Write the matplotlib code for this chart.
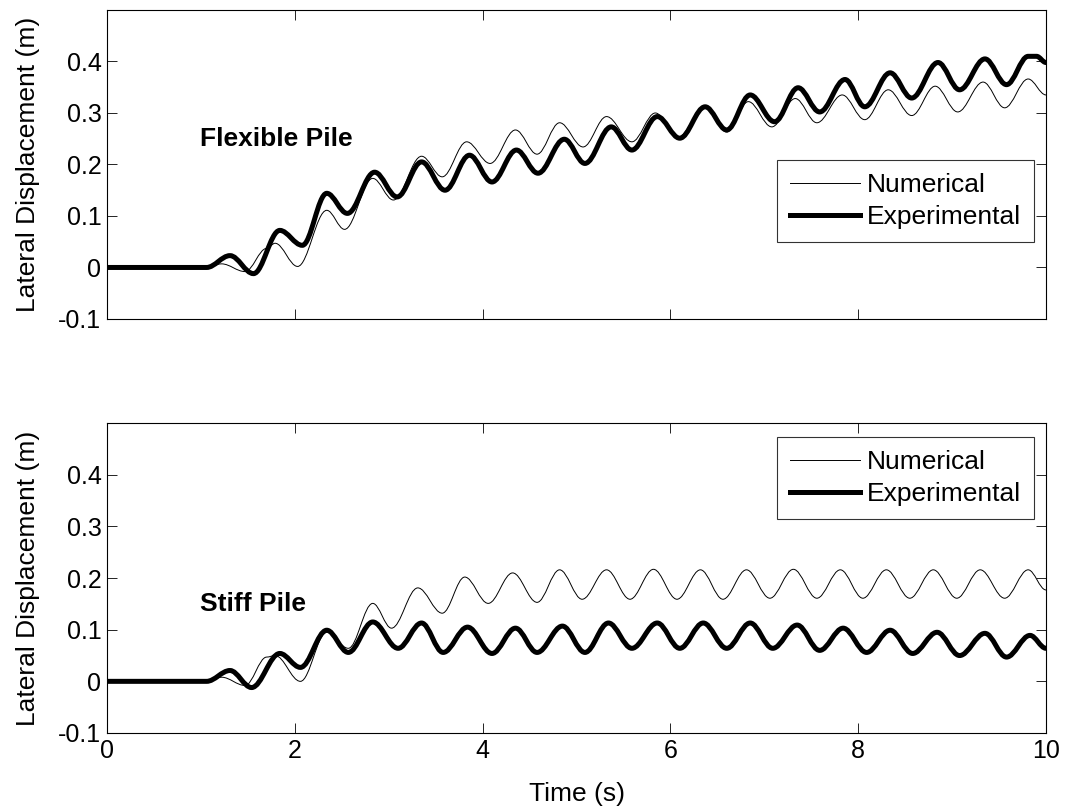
"""
Lateral displacement of flexible and stiff piles: numerical vs experimental.
Saves the figure to out.png.
"""

import matplotlib
matplotlib.use("Agg")
import matplotlib.pyplot as plt
from matplotlib.lines import Line2D
from matplotlib.patches import PathPatch
from matplotlib.path import Path


# flexible pile, experimental (peaks / troughs)
flex_exp_t = [0, 1.06, 1.31, 1.56, 1.84, 2.08, 2.34, 2.56, 2.85, 3.09, 3.35,
              3.60, 3.86, 4.10, 4.36, 4.59, 4.87, 5.09, 5.37, 5.59, 5.86,
              6.10, 6.37, 6.60, 6.85, 7.11, 7.36, 7.59, 7.86, 8.07, 8.34,
              8.57, 8.85, 9.08, 9.35, 9.58, 9.81, 9.90, 10.0]
flex_exp_y = [0, 0, 0.023, -0.012, 0.072, 0.043, 0.144, 0.105, 0.185, 0.137,
              0.205, 0.150, 0.218, 0.166, 0.228, 0.183, 0.249, 0.202, 0.273,
              0.228, 0.293, 0.251, 0.312, 0.267, 0.335, 0.283, 0.349, 0.302,
              0.365, 0.312, 0.378, 0.329, 0.398, 0.345, 0.405, 0.355, 0.410,
              0.410, 0.398]

# flexible pile, numerical
flex_num_t = [0, 1.06, 1.22, 1.47, 1.70, 1.79, 2.03, 2.34, 2.53, 2.83, 3.05,
              3.35, 3.57, 3.83, 4.08, 4.35, 4.58, 4.82, 5.07, 5.32, 5.59,
              5.84, 6.08, 6.37, 6.60, 6.83, 7.08, 7.33, 7.56, 7.83, 8.07,
              8.32, 8.57, 8.82, 9.06, 9.33, 9.56, 9.81, 10.0]
flex_num_y = [0, 0, 0.007, -0.008, 0.037, 0.047, 0.002, 0.111, 0.074, 0.173,
              0.131, 0.216, 0.176, 0.244, 0.202, 0.267, 0.220, 0.281, 0.234,
              0.293, 0.244, 0.300, 0.253, 0.312, 0.263, 0.322, 0.273, 0.328,
              0.281, 0.335, 0.287, 0.345, 0.295, 0.352, 0.302, 0.360, 0.310,
              0.366, 0.335]

# stiff pile, experimental
stiff_exp_t = [0, 1.06, 1.31, 1.54, 1.84, 2.06, 2.34, 2.57, 2.83, 3.10, 3.35,
               3.58, 3.84, 4.10, 4.35, 4.58, 4.85, 5.09, 5.34, 5.59, 5.86,
               6.10, 6.35, 6.60, 6.85, 7.09, 7.35, 7.59, 7.84, 8.09, 8.34,
               8.58, 8.84, 9.08, 9.35, 9.58, 9.83, 10.0]
stiff_exp_y = [0, 0, 0.021, -0.012, 0.054, 0.027, 0.099, 0.056, 0.115, 0.064,
               0.113, 0.056, 0.105, 0.054, 0.103, 0.056, 0.107, 0.056, 0.113,
               0.064, 0.113, 0.064, 0.113, 0.064, 0.113, 0.064, 0.109, 0.060,
               0.103, 0.056, 0.099, 0.054, 0.095, 0.050, 0.093, 0.047, 0.089,
               0.064]

# stiff pile, numerical
stiff_num_t = [0, 1.06, 1.22, 1.47, 1.70, 1.79, 2.06, 2.34, 2.57, 2.83, 3.03,
               3.31, 3.57, 3.81, 4.06, 4.32, 4.58, 4.82, 5.06, 5.32, 5.57,
               5.82, 6.07, 6.32, 6.56, 6.81, 7.06, 7.31, 7.56, 7.81, 8.05,
               8.30, 8.55, 8.80, 9.05, 9.30, 9.56, 9.81, 10.0]
stiff_num_y = [0, 0, 0.008, -0.008, 0.047, 0.050, 0.0, 0.095, 0.064, 0.151,
               0.103, 0.181, 0.132, 0.202, 0.151, 0.210, 0.153, 0.216, 0.159,
               0.216, 0.159, 0.217, 0.159, 0.216, 0.159, 0.216, 0.161, 0.217,
               0.161, 0.216, 0.161, 0.216, 0.161, 0.216, 0.161, 0.216, 0.161,
               0.216, 0.177]

x_ticks = [0, 2, 4, 6, 8, 10]
x_tick_labels = ["0", "2", "4", "6", "8", "10"]
y_ticks = [-0.1, 0, 0.1, 0.2, 0.3, 0.4]
y_tick_labels = ["-0.1", "0", "0.1", "0.2", "0.3", "0.4"]

plt.rcParams["font.family"] = ["Liberation Sans", "DejaVu Sans"]

THIN = 0.7
THICK = 3.6


def smooth_line(ax, t, y, lw):
    """Draw the peak/trough sequence as a smooth bezier curve in data coords."""
    verts = [(t[0], y[0])]
    codes = [Path.MOVETO]
    for i in range(len(t) - 1):
        dt = t[i + 1] - t[i]
        verts += [(t[i] + 0.36 * dt, y[i]),
                  (t[i + 1] - 0.36 * dt, y[i + 1]),
                  (t[i + 1], y[i + 1])]
        codes += [Path.CURVE4] * 3
    patch = PathPatch(Path(verts, codes), facecolor="none", edgecolor="black",
                      linewidth=lw, joinstyle="round", capstyle="round",
                      transform=ax.transData)
    ax.add_patch(patch)


def style_axes(ax, show_xlabels):
    ax.set_xlim(0, 10)
    ax.set_ylim(-0.1, 0.5)
    ax.set_xticks(x_ticks)
    ax.set_yticks(y_ticks)
    ax.set_yticklabels(y_tick_labels)
    if show_xlabels:
        ax.set_xticklabels(x_tick_labels)
    else:
        ax.set_xticklabels([])
    ax.tick_params(direction="in", length=7, width=0.6, top=True, right=True,
                   labelsize=18, pad=4)
    for spine in ax.spines.values():
        spine.set_linewidth(0.8)
    ax.set_ylabel("Lateral Displacement (m)", fontsize=19, labelpad=13)


def draw_panel(ax, t_num, y_num, t_exp, y_exp, label, label_y, legend_anchor):
    smooth_line(ax, t_num, y_num, THIN)
    smooth_line(ax, t_exp, y_exp, THICK)
    ax.text(0.99, label_y, label, fontsize=19, fontweight="bold",
            va="center", ha="left")
    handles = [Line2D([], [], color="black", linewidth=THIN),
               Line2D([], [], color="black", linewidth=THICK)]
    leg = ax.legend(handles, ["Numerical", "Experimental"],
                    loc="upper right", bbox_to_anchor=legend_anchor,
                    fontsize=19, frameon=True, fancybox=False,
                    borderaxespad=0, borderpad=0.5, labelspacing=0.3,
                    handlelength=2.65, handletextpad=0.25)
    leg.get_frame().set_edgecolor("black")
    leg.get_frame().set_linewidth(0.8)


def main() -> None:
    fig = plt.figure(figsize=(10.67, 8.11), dpi=100)
    ax_top = fig.add_axes([0.1003, 0.6067, 0.880, 0.381])
    ax_bot = fig.add_axes([0.1003, 0.0962, 0.880, 0.382])

    draw_panel(ax_top, flex_num_t, flex_num_y, flex_exp_t, flex_exp_y,
               "Flexible Pile", 0.25, (0.987, 0.515))
    style_axes(ax_top, show_xlabels=False)

    draw_panel(ax_bot, stiff_num_t, stiff_num_y, stiff_exp_t, stiff_exp_y,
               "Stiff Pile", 0.15, (0.987, 0.955))
    style_axes(ax_bot, show_xlabels=True)
    ax_bot.set_xlabel("Time (s)", fontsize=19, labelpad=14)

    fig.savefig("out.png", dpi=100)
    plt.close(fig)


if __name__ == "__main__":
    main()
